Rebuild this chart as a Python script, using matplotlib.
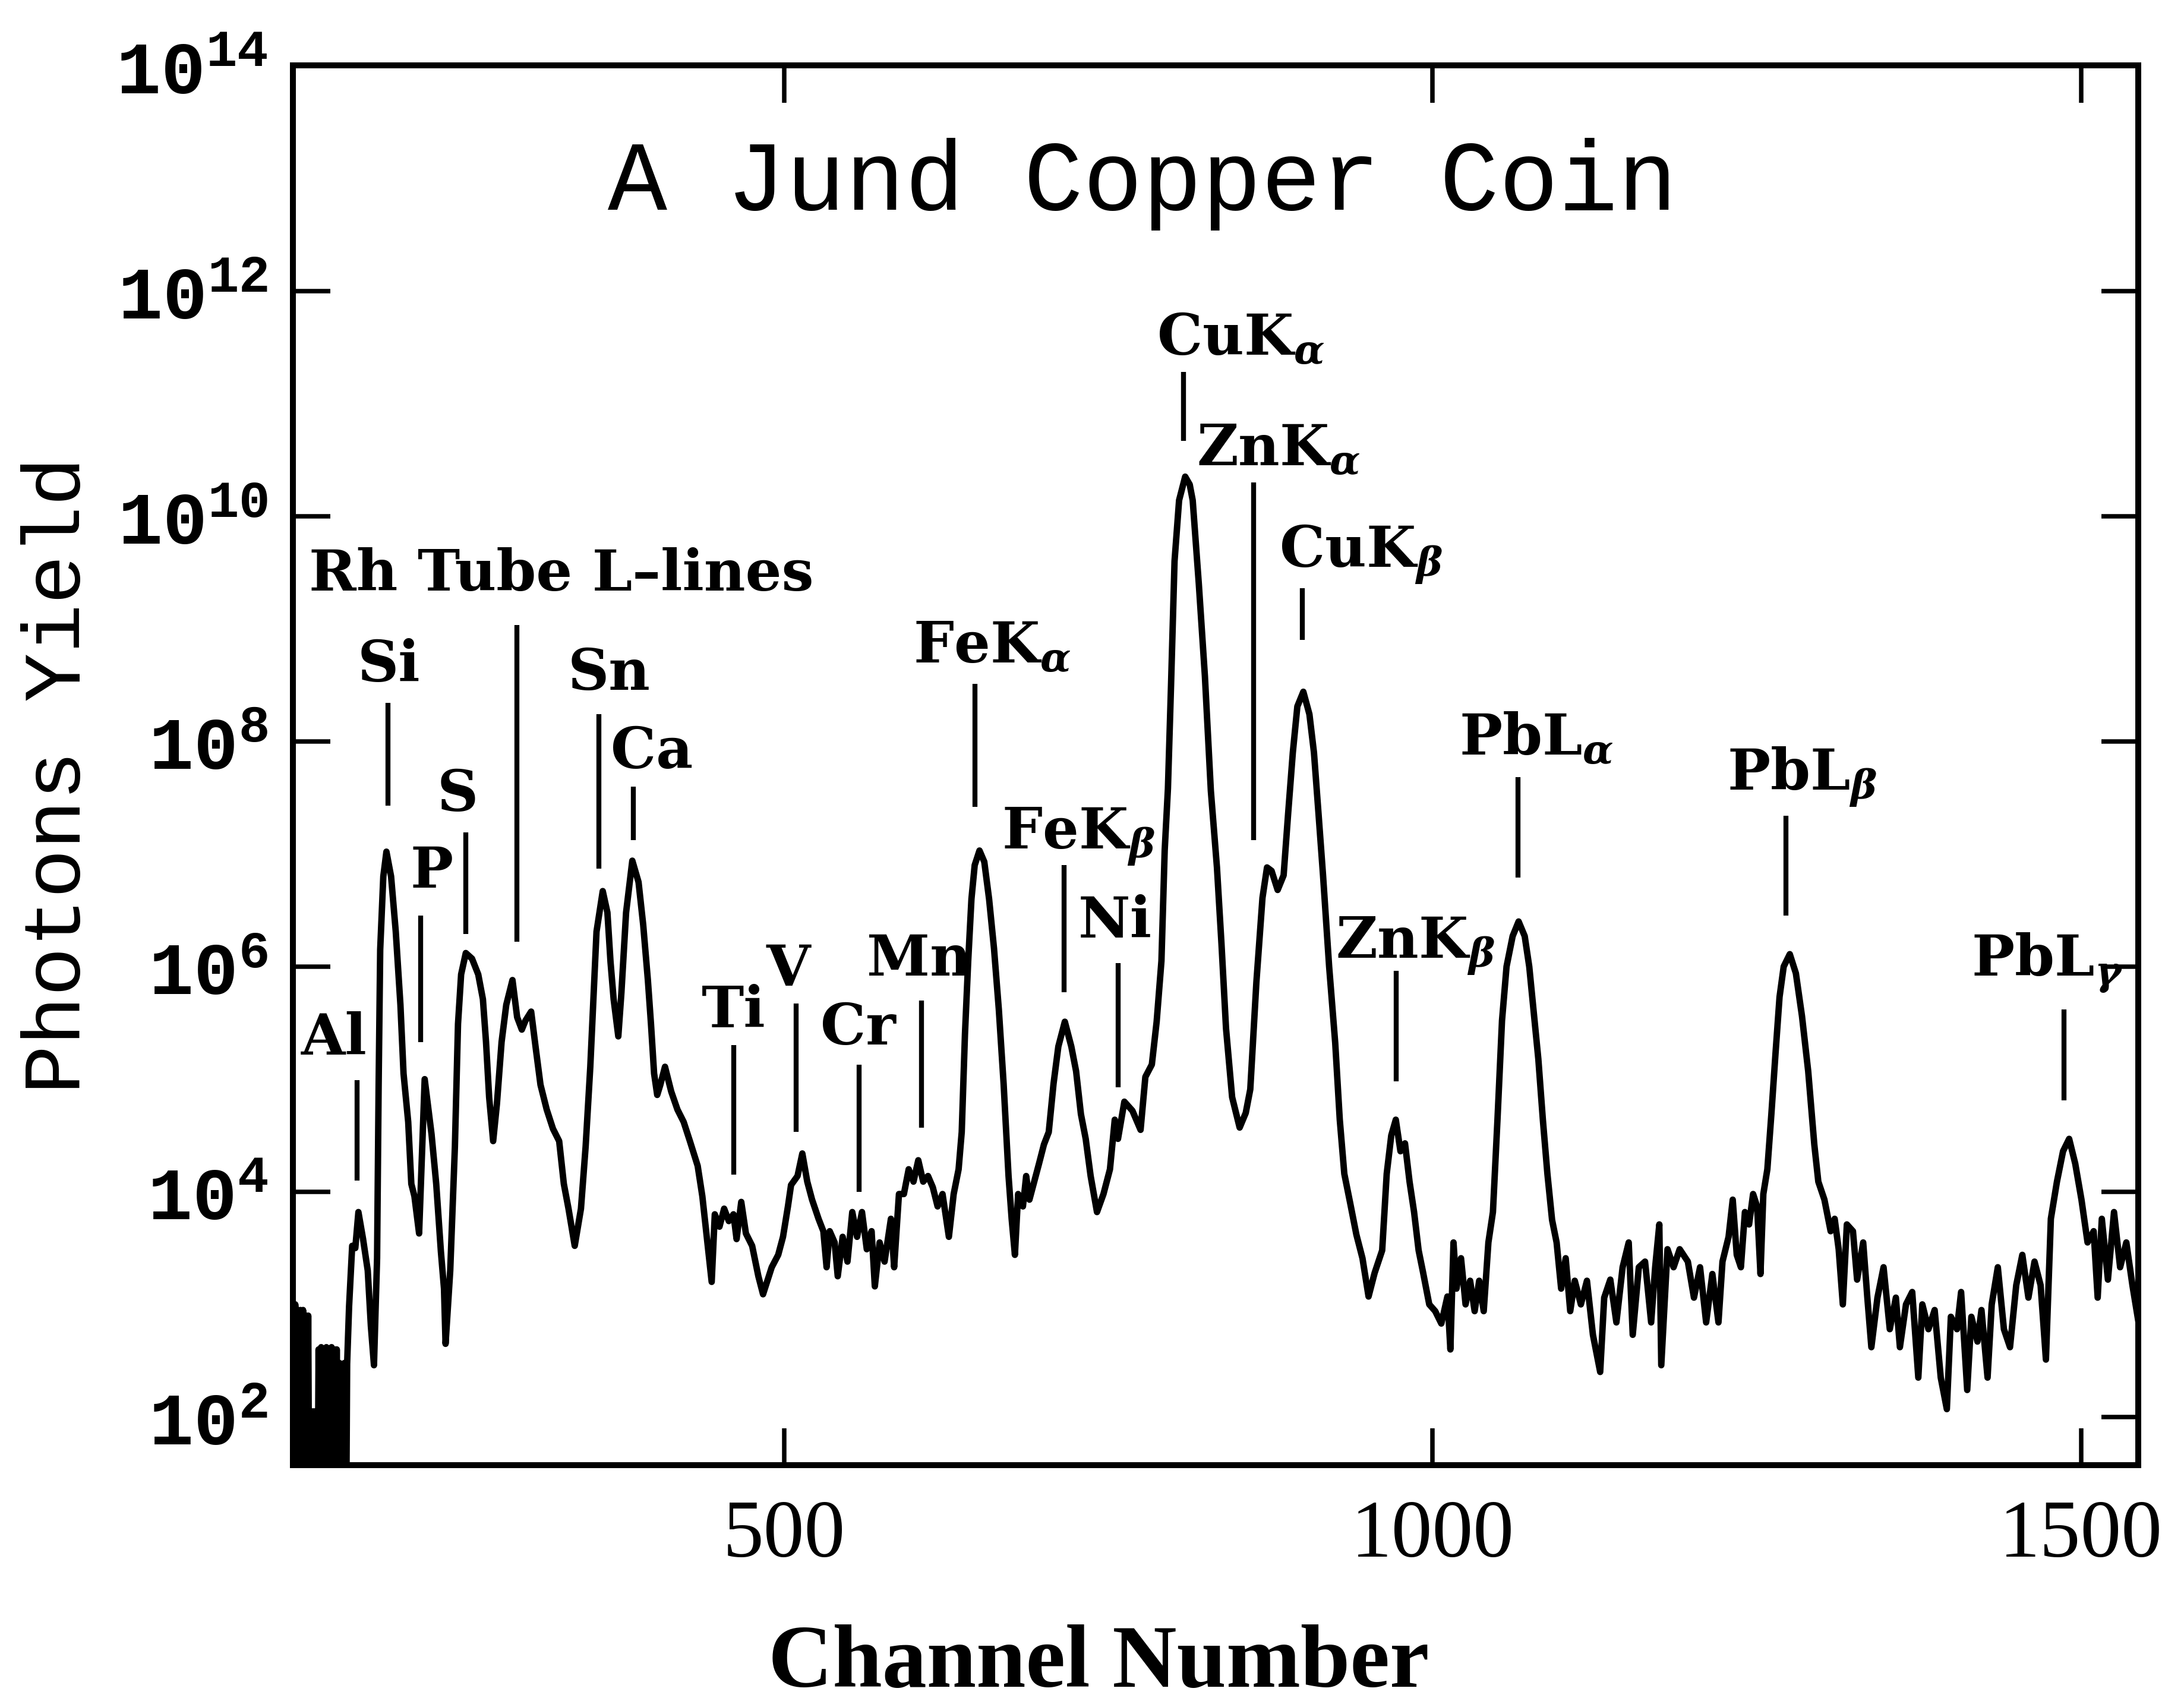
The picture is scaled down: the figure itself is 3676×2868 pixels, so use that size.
import matplotlib
matplotlib.use('Agg')
import matplotlib.pyplot as plt
import numpy as np

plt.rcParams['mathtext.fontset'] = 'custom'
plt.rcParams['mathtext.rm'] = 'Liberation Mono:bold'
plt.rcParams['mathtext.bf'] = 'Liberation Mono:bold'
plt.rcParams['mathtext.it'] = 'DejaVu Serif:italic:bold'

# spectrum: channel number and log10(photon yield)
# low-energy end: noise that keeps dropping below the axis floor
channel_low = [121, 122, 123, 124, 125, 126, 127, 128, 129, 130, 131, 132, 133, 134,
               135, 136, 137, 138, 139, 140, 141, 142, 143, 144, 145, 146, 147, 148,
               149, 150, 151, 152, 153, 154, 155, 156, 157, 158, 159, 160, 161, 162, 163]
log_low = [2.9, 0.5, 3.0, 0.5, 2.95, 0.5, 2.95, 0.5, 2.95, 0.5, 2.9, 0.5, 2.9, 0.5,
           2.05, 0.5, 2.05, 0.5, 2.05, 0.5, 2.6, 0.5, 2.62, 0.5, 2.6, 0.5, 2.62, 0.5,
           2.6, 0.5, 2.62, 0.5, 2.6, 0.5, 2.6, 0.5, 2.48, 0.5, 2.47, 0.5, 2.48, 0.5, 2.47]

# Al .. Ti
channel_a = [164.5, 166.9, 169.3, 171.7, 175.3, 178.9, 181.3, 183.7, 186.1, 187.3, 188.5,
             190.9, 193.3, 196.9, 200.5, 204.1, 206.5, 210.1, 212.5, 214.9, 218.5, 220.9,
             222.8, 225.7, 228.1, 231.7, 235.3, 237.7, 238.9, 242.5, 246.1, 248.5, 250.9,
             254.5, 259.3, 264.1, 267.7, 270.1, 272.5, 275.6, 278.5, 282.1, 285.7, 290.5,
             294.1, 297.7, 300.5, 304.9, 308.5, 312.1, 316.9, 321.7, 326.5, 330.1, 333.7,
             338.5, 343.3, 346.9, 350.5, 352.9, 355.3, 360.1, 363.7, 366.1, 368.5, 372.1,
             374.5, 378.1, 382.9, 387.7, 391.3, 394.9, 397.3, 399.7, 402.1, 404.5, 408.1,
             412.9, 417.7, 422.5, 427.3, 433.3, 436.9, 440.5, 444.1, 446.5, 450.1, 453.7,
             457.3, 460.9, 463.3, 466.9, 470.5, 475.3, 480.1, 483.7]
log_a = [2.98, 3.52, 3.50, 3.82, 3.58, 3.30, 2.81, 2.46, 3.41, 4.95, 6.15,
         6.80, 7.02, 6.80, 6.31, 5.66, 5.05, 4.62, 4.07, 3.96, 3.63, 4.40,
         5.00, 4.73, 4.51, 4.07, 3.47, 3.14, 2.65, 3.30, 4.40, 5.49, 5.93,
         6.12, 6.07, 5.93, 5.71, 5.33, 4.84, 4.45, 4.78, 5.33, 5.66, 5.88,
         5.55, 5.44, 5.52, 5.60, 5.27, 4.95, 4.73, 4.56, 4.45, 4.07, 3.85,
         3.52, 3.85, 4.40, 5.11, 5.71, 6.31, 6.67, 6.48, 6.04, 5.71, 5.38,
         5.77, 6.48, 6.94, 6.75, 6.37, 5.88, 5.49, 5.05, 4.86, 4.95, 5.11,
         4.89, 4.73, 4.62, 4.45, 4.23, 3.96, 3.58, 3.20, 3.80, 3.69, 3.85,
         3.74, 3.80, 3.58, 3.91, 3.63, 3.52, 3.25, 3.09]

# V .. Ni
channel_b = [490.4, 495.4, 499.1, 502.9, 505.3, 510.3, 514.0, 517.8, 521.5, 526.5, 530.2,
             532.7, 535.1, 538.9, 541.3, 545.1, 548.8, 552.5, 556.2, 560.0, 563.7, 567.4,
             569.9, 573.6, 577.4, 582.3, 584.8, 588.5, 592.3, 596.0, 599.7, 603.4, 607.2,
             610.9, 614.6, 618.3, 622.1, 627.0, 630.7, 634.5, 636.9, 639.4, 641.9, 644.4,
             646.9, 650.6, 654.3, 658.0, 661.8, 665.5, 669.2, 673.0, 675.4, 677.9, 680.4,
             684.1, 686.6, 689.1, 692.8, 696.5, 700.3, 704.0, 707.7, 711.4, 716.4, 721.4,
             725.1, 728.8, 732.5, 736.3, 741.2, 746.2, 751.2, 754.9, 757.4, 762.3, 768.5,
             774.8, 778.5, 783.5, 787.2]
log_b = [3.33, 3.44, 3.60, 3.87, 4.06, 4.14, 4.34, 4.09, 3.93, 3.76, 3.65,
         3.33, 3.65, 3.55, 3.25, 3.60, 3.38, 3.82, 3.60, 3.82, 3.49, 3.65,
         3.16, 3.55, 3.38, 3.76, 3.33, 3.98, 3.98, 4.20, 4.09, 4.28, 4.09,
         4.14, 4.04, 3.87, 3.98, 3.60, 3.98, 4.20, 4.53, 5.40, 6.05, 6.60,
         6.90, 7.03, 6.93, 6.60, 6.16, 5.62, 4.96, 4.14, 3.76, 3.44, 3.98,
         3.87, 4.14, 3.93, 4.09, 4.25, 4.42, 4.53, 4.96, 5.29, 5.51, 5.29,
         5.07, 4.69, 4.47, 4.14, 3.82, 3.98, 4.20, 4.64, 4.47, 4.80, 4.72,
         4.55, 5.02, 5.13, 5.51]

# Cu, Zn and PbL-alpha
channel_c = [790.9, 793.4, 795.9, 798.3, 801.0, 804.5, 809.2, 812.7, 815.0, 819.7, 824.4,
             829.0, 833.7, 837.2, 840.7, 845.4, 851.2, 855.9, 859.4, 864.1, 868.8, 872.3,
             875.8, 880.5, 885.1, 888.6, 892.2, 895.7, 900.3, 905.0, 908.5, 912.0, 915.5,
             920.2, 924.9, 928.4, 931.9, 936.6, 941.2, 945.9, 950.6, 955.3, 961.1, 964.6,
             968.1, 971.6, 975.2, 978.7, 982.2, 985.7, 989.2, 992.7, 997.4, 1002.0, 1006.7,
             1011.4, 1013.7, 1016.1, 1018.4, 1021.9, 1025.4, 1028.9, 1032.4, 1035.9, 1039.4,
             1043.0, 1046.5, 1050.0, 1053.5, 1057.0, 1061.7, 1066.3, 1071.0, 1074.5, 1078.0,
             1081.5, 1085.0, 1088.5, 1092.1, 1095.6, 1099.1, 1102.6, 1106.1, 1109.6, 1114.3,
             1119.0, 1123.6]
log_c = [6.05, 7.03, 7.58, 8.50, 9.60, 10.14, 10.35, 10.28, 10.14, 9.40, 8.58,
         7.56, 6.88, 6.20, 5.45, 4.84, 4.57, 4.70, 4.91, 5.86, 6.61, 6.88,
         6.85, 6.68, 6.81, 7.36, 7.90, 8.31, 8.44, 8.24, 7.90, 7.36, 6.81,
         6.00, 5.32, 4.64, 4.16, 3.89, 3.62, 3.41, 3.07, 3.28, 3.48, 4.16,
         4.50, 4.64, 4.36, 4.43, 4.09, 3.82, 3.48, 3.28, 3.00, 2.94, 2.83,
         3.07, 2.60, 3.55, 3.14, 3.41, 3.00, 3.21, 2.94, 3.21, 2.94,
         3.55, 3.82, 4.64, 5.52, 6.00, 6.27, 6.40, 6.27, 6.00, 5.59,
         5.18, 4.64, 4.16, 3.75, 3.55, 3.14, 3.41, 2.94, 3.21, 3.00,
         3.21, 2.73]

# PbL-beta, PbL-gamma and the high-energy end
channel_d = [1129.2, 1132.3, 1137.0, 1141.7, 1146.5, 1151.2, 1154.3, 1159.0, 1163.8, 1168.5,
             1171.6, 1174.8, 1176.3, 1181.1, 1185.8, 1190.5, 1196.8, 1201.5, 1206.2, 1210.9,
             1215.7, 1220.4, 1223.5, 1228.2, 1231.4, 1234.5, 1237.7, 1240.8, 1244.0, 1247.1,
             1250.2, 1252.8, 1255.0, 1258.1, 1261.2, 1264.4, 1267.5, 1270.7, 1275.4, 1280.1,
             1284.8, 1289.6, 1294.3, 1297.4, 1302.1, 1306.9, 1310.0, 1313.1, 1316.3, 1319.4,
             1324.1, 1327.3, 1332.0, 1335.2, 1338.3, 1343.0, 1347.7, 1352.5, 1357.2, 1360.3,
             1365.0, 1369.8, 1374.5, 1377.6, 1382.3, 1387.1, 1391.8, 1396.5, 1399.6, 1404.3,
             1407.5, 1412.2, 1415.4, 1420.1, 1423.2, 1427.9, 1431.1, 1435.8, 1440.5, 1445.2,
             1450.0, 1454.7, 1459.4, 1464.1, 1468.8, 1472.9, 1476.7, 1481.4, 1486.1, 1490.8,
             1495.5, 1500.3, 1505.0, 1509.7, 1512.8, 1516.0, 1520.7, 1525.4, 1530.1, 1534.9,
             1539.6, 1544.3]
log_d = [2.40, 3.06, 3.22, 2.84, 3.33, 3.55, 2.73, 3.33, 3.38, 2.84,
         3.33, 3.71, 2.46, 3.49, 3.33, 3.49, 3.38, 3.06, 3.33, 2.84,
         3.27, 2.84, 3.38, 3.60, 3.93, 3.44, 3.33, 3.82, 3.71, 3.98,
         3.87, 3.27, 3.98, 4.20, 4.69, 5.23, 5.73, 6.00, 6.11, 5.94,
         5.56, 5.07, 4.42, 4.09, 3.93, 3.65, 3.76, 3.49, 3.00, 3.71,
         3.65, 3.22, 3.55, 3.06, 2.62, 3.06, 3.33, 2.78, 3.06, 2.62,
         3.00, 3.11, 2.35, 3.00, 2.78, 2.95, 2.35, 2.07, 2.89, 2.78,
         3.11, 2.24, 2.89, 2.67, 2.95, 2.35, 3.00, 3.33, 2.78, 2.62,
         3.17, 3.44, 3.06, 3.38, 3.17, 2.51, 3.76, 4.09, 4.36, 4.47,
         4.25, 3.93, 3.55, 3.65, 3.06, 3.76, 3.22, 3.82, 3.33, 3.55,
         3.17, 2.84]

# peak annotations: label text, label anchor, marker line
peak_labels = ['Al', 'Si', 'P', 'S', 'Rh Tube L\u2013lines', 'Sn', 'Ca', 'Ti', 'V', 'Cr', 'Mn',
               r'FeK$_\alpha$', r'FeK$_\beta$', 'Ni', r'CuK$_\alpha$', r'ZnK$_\alpha$',
               r'CuK$_\beta$', r'ZnK$_\beta$', r'PbL$_\alpha$', r'PbL$_\beta$', r'PbL$_\gamma$']
label_ch = [153, 195, 228, 248, 328, 365, 398, 461, 503, 557, 604,
            660, 727, 755, 852, 881, 945, 987, 1080, 1285, 1474]
label_log = [5.22, 8.53, 6.70, 7.38, 9.34, 8.46, 7.76, 5.46, 5.83, 5.31, 5.92,
             8.70, 7.05, 6.26, 11.43, 10.45, 9.55, 6.08, 7.88, 7.57, 5.92]
mark_ch = [170.5, 194.5, 219.5, 254.5, 294, 357, 383.5, 461, 509, 558, 606,
           647, 716, 757.5, 808, 862, 899.5, 972, 1066, 1272.5, 1487]
mark_top = [4.99, 8.34, 6.45, 7.19, 9.03, 8.24, 7.60, 5.30, 5.67, 5.13, 5.70,
            8.51, 6.90, 6.03, 11.28, 10.30, 9.36, 5.96, 7.68, 7.34, 5.62]
mark_bot = [4.10, 7.43, 5.33, 6.29, 6.22, 6.87, 7.12, 4.15, 4.53, 4.00, 4.57,
            7.42, 5.77, 4.93, 10.67, 7.12, 8.90, 4.98, 6.79, 6.45, 4.81]

x_ticks = [500, 1000, 1500]
y_ticks = [1e2, 1e4, 1e6, 1e8, 1e10, 1e12, 1e14]

channel = np.array(channel_low + channel_a + channel_b + channel_c + channel_d)
photons = 10.0 ** np.array(log_low + log_a + log_b + log_c + log_d)

fig = plt.figure(figsize=(3676 / 300, 2868 / 300), dpi=300)
ax = fig.add_axes([0.134, 0.140, 0.845, 0.8215])

ax.plot(channel, photons, color='black', lw=2.6, solid_joinstyle='round')
ax.vlines(mark_ch, 10.0 ** np.array(mark_bot), 10.0 ** np.array(mark_top), color='black', lw=2.0)
for txt, cx, cy in zip(peak_labels, label_ch, label_log):
    ax.text(cx, 10.0 ** cy, txt, ha='center', va='baseline', fontsize=23,
            family='DejaVu Serif', weight='bold')

ax.set_yscale('log')
ax.set_xlim(121, 1544)
ax.set_ylim(10 ** 1.57, 1e14)
ax.set_xticks(x_ticks)
ax.set_xticklabels([str(t) for t in x_ticks], family='Liberation Serif', fontsize=33)
ax.set_yticks(y_ticks)
ax.set_yticklabels([r'$10^{%d}$' % int(np.log10(t)) for t in y_ticks], fontsize=30)
ax.minorticks_off()
ax.tick_params(direction='in', length=15, width=1.8, top=True, right=True)
ax.tick_params(axis='x', pad=14)
ax.tick_params(axis='y', pad=10)
for sp in ax.spines.values():
    sp.set_linewidth(2.4)

fig.text(0.523, 0.877, 'A Jund Copper Coin', ha='center', va='baseline',
         family='Liberation Mono', fontsize=40)
fig.text(0.027, 0.545, 'Photons Yield', rotation=90, ha='center', va='center',
         family='Liberation Mono', fontsize=33)
fig.text(0.503, 0.010, 'Channel Number', ha='center', va='baseline',
         family='Liberation Serif', weight='bold', fontsize=36)

fig.savefig('out.png', dpi=300)
